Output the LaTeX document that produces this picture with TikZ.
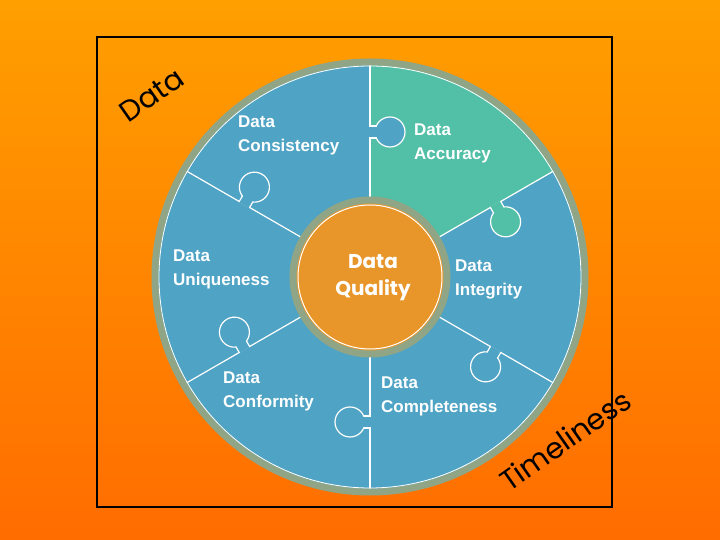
\documentclass[tikz,border=0pt]{standalone}
\usepackage{fontspec}
\usetikzlibrary{calc}
\setmainfont{Liberation Sans}
\newfontfamily\pop{Poppins}
\definecolor{pblue}{HTML}{4FA3C4}
\definecolor{pgreen}{HTML}{52C0A6}
\definecolor{porange}{HTML}{E8962A}
\definecolor{pgray}{HTML}{8FA586}
\begin{document}
\begin{tikzpicture}[x=1pt,y=1pt,
  lbl/.style={text=white,font=\fontsize{17}{24}\selectfont\bfseries,align=left,anchor=north west,inner sep=0pt},
  side/.style={font=\pop\fontsize{29}{29}\selectfont,text=black,rotate=35}]
\shade[top color=orange!75!yellow,bottom color=orange!85!red] (0,0) rectangle (720,540);
\useasboundingbox (0,0) rectangle (720,540);
\coordinate (C) at (370,263);
\draw[black,line width=2] (97,33) rectangle (612,503);
\fill[pblue] (C) circle (215);
\fill[pgreen] (C) -- ++(30:215) arc (30:90:215) -- cycle;
\foreach \a in {90,30,-30,-90,-150,150}
  \draw[white,line width=1.2] ($(C)+(\a:77)$) -- ($(C)+(\a:215)$);
\foreach \a/\col in {90/pblue,30/pgreen,-30/pblue,-90/pblue,-150/pblue,150/pblue}{
  \begin{scope}[shift={(C)},rotate=\a]
    \fill[\col] (145,-20) circle (15);
    \draw[white,line width=1.2] (145,-20) circle (15);
    \fill[\col] (139.6,-9) rectangle (150.4,0.8);
    \draw[white,line width=1.2] (139,0) -- (139,-6.5) (151,0) -- (151,-6.5);
  \end{scope}}
\draw[pgray,line width=7] (C) circle (215);
\draw[white,line width=0.8] (C) circle (211);
\fill[porange] (C) circle (77);
\draw[pgray,line width=7] (C) circle (77);
\draw[white,line width=1] (C) circle (72);
\node[lbl] (cons) at (238,424) {Data\\Consistency};
\node[lbl] (acc) at (414,416) {Data\\Accuracy};
\node[lbl] (uniq) at (173,290) {Data\\Uniqueness};
\node[lbl] (integ) at (455,280) {Data\\Integrity};
\node[lbl] (conf) at (223,168) {Data\\Conformity};
\node[lbl] (comp) at (381,163) {Data\\Completeness};
\node[text=white,font=\pop\fontsize{20}{27}\selectfont\bfseries,align=center] (dq) at (373,262) {Data\\Quality};
\node[side] (d) at (152,445) {Data};
\node[side] (t) at (565,100) {Timeliness};
\end{tikzpicture}
\end{document}
